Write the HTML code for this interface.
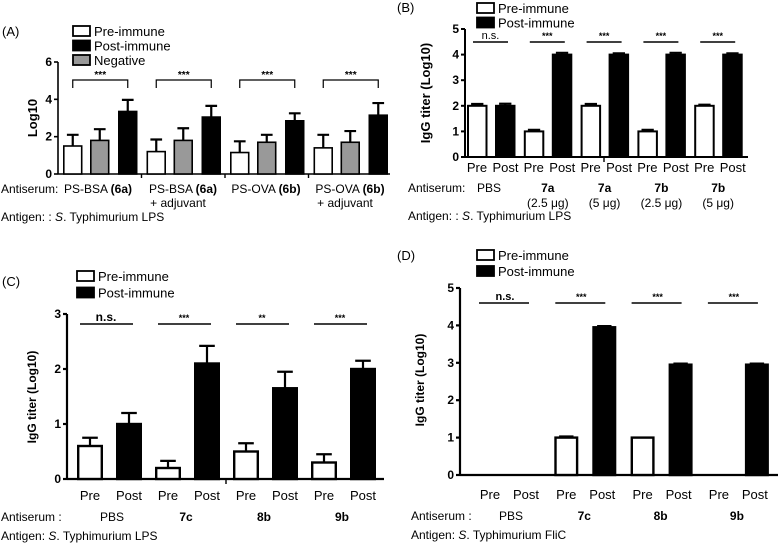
<!DOCTYPE html>
<html><head><meta charset="utf-8"><style>
body{margin:0;background:#fff;}
svg{display:block;font-family:"Liberation Sans",Arial,sans-serif;}
</style></head><body>
<svg id="fig" width="778" height="543" viewBox="0 0 778 543" xmlns="http://www.w3.org/2000/svg"></svg>
<script>
// Panel A data
const aGroups = ["PS-BSA (6a)", "PS-BSA (6a) + adjuvant", "PS-OVA (6b)", "PS-OVA (6b) + adjuvant"];
const aPre = [1.5, 1.2, 1.15, 1.4];
const aPreErr = [0.6, 0.65, 0.6, 0.7];
const aNeg = [1.8, 1.8, 1.7, 1.7];
const aNegErr = [0.6, 0.65, 0.4, 0.6];
const aPost = [3.35, 3.05, 2.85, 3.15];
const aPostErr = [0.62, 0.6, 0.4, 0.65];
const aTicks = [0, 2, 4, 6];
const aSig = ["***", "***", "***", "***"];
// Panel B data
const bGroups = ["PBS", "7a", "7a", "7b", "7b"];
const bSub = ["", "(2.5 μg)", "(5 μg)", "(2.5 μg)", "(5 μg)"];
const bPre = [2, 1, 2, 1, 2];
const bPreErr = [0.07, 0.06, 0.07, 0.06, 0.04];
const bPost = [2, 4, 4, 4, 4];
const bPostErr = [0.08, 0.07, 0.05, 0.07, 0.05];
const bTicks = [0, 1, 2, 3, 4, 5];
const bSig = ["n.s.", "***", "***", "***", "***"];
// Panel C data
const cGroups = ["PBS", "7c", "8b", "9b"];
const cPre = [0.6, 0.2, 0.5, 0.3];
const cPreErr = [0.15, 0.13, 0.15, 0.15];
const cPost = [1.0, 2.1, 1.65, 2.0];
const cPostErr = [0.2, 0.32, 0.3, 0.15];
const cTicks = [0, 1, 2, 3];
const cSig = ["n.s.", "***", "**", "***"];
// Panel D data
const dGroups = ["PBS", "7c", "8b", "9b"];
const dPre = [0, 1, 1, 0];
const dPreErr = [0, 0.03, 0, 0];
const dPost = [0, 3.95, 2.95, 2.95];
const dPostErr = [0, 0.03, 0.03, 0.03];
const dTicks = [0, 1, 2, 3, 4, 5];
const dSig = ["n.s.", "***", "***", "***"];

const svg = document.getElementById('fig');
const NS = "http://www.w3.org/2000/svg";
function el(tag, attrs, parent) {
  const e = document.createElementNS(NS, tag);
  for (const k in attrs) e.setAttribute(k, attrs[k]);
  (parent || svg).appendChild(e);
  return e;
}
function txt(x, y, s, size, opts, parent) {
  opts = opts || {};
  const t = el('text', {x: x, y: y, 'font-size': size, 'text-anchor': opts.anchor || 'start', 'font-weight': opts.bold ? 'bold' : 'normal', fill: '#000'}, parent);
  if (opts.rot) t.setAttribute('transform', 'rotate(-90 ' + x + ' ' + y + ')');
  t.innerHTML = s;
  return t;
}
function yScale(y0, yTop, max) { return v => y0 - v / max * (y0 - yTop); }

function axes(g, x0, y0, yTop, xEnd, ticks, max, lw) {
  const Y = yScale(y0, yTop, max);
  const ax = el('line', {x1: x0, y1: yTop, x2: x0, y2: y0, stroke: '#000', 'stroke-width': lw}, g);
  
  
  const xx = el('line', {x1: x0, y1: y0, x2: xEnd, y2: y0, stroke: '#000', 'stroke-width': lw}, g);
  
  
  ticks.forEach(t => {
    el('line', {x1: x0 - 4, y1: Y(t), x2: x0, y2: Y(t), stroke: '#000', 'stroke-width': lw}, g);
    const l = txt(x0 - 6, Y(t) + 4, t, 12, {anchor: 'end', bold: true}, g);
    
    
  });
  return Y;
}
function bar(g, x, w, v, err, Y, fill, lw, name) {
  const y0 = Y(0), yt = Y(v);
  if (v <= 0) return;
  const cx = x + w / 2;
  if (err > 0) {
    const et = Y(v + err);
    const e = el('path', {d: 'M' + cx + ' ' + yt + 'V' + et + 'M' + (cx - w * 0.3) + ' ' + et + 'H' + (cx + w * 0.3), stroke: '#000', 'stroke-width': 2.2, fill: 'none'}, g);
    
    
  }
  const r = el('rect', {x: x + lw / 2, y: yt, width: w - lw, height: y0 - yt, fill: fill, stroke: '#000', 'stroke-width': lw}, g);
  
  
}
function legend(g, x, y, items, dy) {
  items.forEach((it, i) => {
    const r = el('rect', {x: x, y: y + i * dy - 5, width: 17, height: 10, fill: it[1], stroke: '#000', 'stroke-width': 1.8}, g);
    
    
    const t = txt(x + 21, y + i * dy + 5, it[0], 13, {}, g);
    
    
  });
}
const LEG2 = [["Pre-immune", '#fff', 'pre'], ["Post-immune", '#000', 'post']];

// ---------- Panel A ----------
{
  const g = el('g', {});  
  txt(2, 36, '(A)', 13, {}, g);
  legend(g, 73, 31, [["Pre-immune", '#fff', 'pre'], ["Post-immune", '#000', 'post'], ["Negative", '#999', 'negative']], 14.5);
  const Y = axes(g, 58, 174, 62, 390, aTicks, 6, 1.6);
  const yt = txt(37, 118, 'Log10', 13, {anchor: 'middle', bold: true, rot: true}, g);
   
  const gw = 83.5, bw = 19.5;
  aGroups.forEach((name, i) => {
    const gx = 63 + i * gw;
    bar(g, gx, bw, aPre[i], aPreErr[i], Y, '#fff', 1.6, 'bar-pre-' + (i + 1));
    bar(g, gx + 27, bw, aNeg[i], aNegErr[i], Y, '#999', 1.6, 'bar-negative-' + (i + 1));
    bar(g, gx + 55, bw, aPost[i], aPostErr[i], Y, '#000', 1.6, 'bar-post-' + (i + 1));
    const x1 = gx + bw / 2, x2 = gx + 55 + bw / 2, by = 80;
    const br = el('path', {d: 'M' + x1 + ' 88V' + by + 'H' + x2 + 'V88', stroke: '#000', 'stroke-width': 1.2, fill: 'none'}, g);
     
    txt((x1 + x2) / 2, 78, aSig[i], 10, {anchor: 'middle', bold: true}, g);
    if (i > 0) el('line', {x1: gx - 5, y1: 174, x2: gx - 5, y2: 178, stroke: '#000', 'stroke-width': 1.4}, g);
  });
  const lab = [['PS-BSA <tspan font-weight="bold">(6a)</tspan>', ''], ['PS-BSA <tspan font-weight="bold">(6a)</tspan>', '+  adjuvant'], ['PS-OVA <tspan font-weight="bold">(6b)</tspan>', ''], ['PS-OVA <tspan font-weight="bold">(6b)</tspan>', '+  adjuvant']];
  const cx = [98, 183, 266, 350];
  txt(1, 193, 'Antiserum:', 12, {}, g);
  lab.forEach((l, i) => { txt(cx[i], 193, l[0], 12, {anchor: 'middle'}, g); if (l[1]) txt(cx[i] - 5, 207, l[1], 12, {anchor: 'middle'}, g); });
  txt(1, 221, 'Antigen: :  <tspan font-style="italic">S</tspan>. Typhimurium  LPS', 12, {}, g);
}

// ---------- Panel B ----------
{
  const g = el('g', {});  
  txt(397, 12, '(B)', 13, {}, g);
  legend(g, 477, 8, LEG2, 14.5);
  const Y = axes(g, 465, 157, 29, 748, bTicks, 5, 2);
  const yt = txt(430, 93, 'IgG titer (Log10)', 13, {anchor: 'middle', bold: true, rot: true}, g);
   
  const gw = 56.8, bw = 20.5;
  bGroups.forEach((name, i) => {
    const gx = 467 + i * gw;
    bar(g, gx, bw, bPre[i], bPreErr[i], Y, '#fff', 2, 'bar-pre-' + (i + 1));
    bar(g, gx + 28, bw, bPost[i], bPostErr[i], Y, '#000', 2, 'bar-post-' + (i + 1));
    const s = el('line', {x1: gx + 6, y1: 42, x2: gx + 41, y2: 42, stroke: '#000', 'stroke-width': 1.4}, g);
     
    txt(gx + 23.5, 39, bSig[i], i === 0 ? 11 : 9, {anchor: 'middle', bold: i > 0}, g);
    txt(gx + 10, 172, 'Pre', 13, {anchor: 'middle'}, g);
    txt(gx + 38.5, 172, 'Post', 13, {anchor: 'middle'}, g);
    txt(gx + 24 + (i === 0 ? -2 : 0), 192, name, 12, {anchor: 'middle', bold: i > 0}, g);
    if (bSub[i]) txt(gx + 24, 207, bSub[i], 12, {anchor: 'middle'}, g);
  });
  el('line', {x1: 604, y1: 157, x2: 604, y2: 162, stroke: '#000', 'stroke-width': 1.4}, g);
  txt(408, 192, 'Antiserum:', 12, {}, g);
  txt(408, 220, 'Antigen: : <tspan font-style="italic">S</tspan>. Typhimurium  LPS', 12, {}, g);
}

// ---------- Panel C ----------
{
  const g = el('g', {});  
  txt(2, 286, '(C)', 13, {}, g);
  legend(g, 77, 276, LEG2, 16.5);
  const Y = axes(g, 67, 479, 314, 384, cTicks, 3, 2.2);
  const yt = txt(36, 397, 'IgG titer (Log10)', 12, {anchor: 'middle', bold: true, rot: true}, g);
   
  const gw = 78, bw = 26;
  cGroups.forEach((name, i) => {
    const gx = 77 + i * gw;
    bar(g, gx, bw, cPre[i], cPreErr[i], Y, '#fff', 2.4, 'bar-pre-' + (i + 1));
    bar(g, gx + 39, bw, cPost[i], cPostErr[i], Y, '#000', 2.4, 'bar-post-' + (i + 1));
    const s = el('line', {x1: gx + 3, y1: 324, x2: gx + 56, y2: 324, stroke: '#000', 'stroke-width': 1.6}, g);
     
    txt(gx + 29, 321, cSig[i], i === 0 ? 12 : 9, {anchor: 'middle', bold: true}, g);
    txt(gx + 13, 500, 'Pre', 13, {anchor: 'middle'}, g);
    txt(gx + 52, 500, 'Post', 13, {anchor: 'middle'}, g);
    txt(gx + 31 + (i === 0 ? 4 : 0), 521, name, 12, {anchor: 'middle', bold: i > 0}, g);
  });
  el('line', {x1: 226, y1: 479, x2: 226, y2: 484, stroke: '#000', 'stroke-width': 1.4}, g);
  txt(1, 521, 'Antiserum :', 12, {}, g);
  txt(1, 540, 'Antigen: <tspan font-style="italic">S</tspan>. Typhimurium  LPS', 12, {}, g);
}

// ---------- Panel D ----------
{
  const g = el('g', {});  
  txt(397, 260, '(D)', 13, {}, g);
  legend(g, 477, 255, LEG2, 16);
  const Y = axes(g, 460, 475, 288, 778, dTicks, 5, 2.2);
  const yt = txt(424, 380, 'IgG titer (Log10)', 12, {anchor: 'middle', bold: true, rot: true}, g);
   
  const gw = 76.3, bw = 24;
  dGroups.forEach((name, i) => {
    const gx = 478 + i * gw;
    bar(g, gx, bw, dPre[i], dPreErr[i], Y, '#fff', 2.4, 'bar-pre-' + (i + 1));
    bar(g, gx + 38, bw, dPost[i], dPostErr[i], Y, '#000', 2.4, 'bar-post-' + (i + 1));
    const s = el('line', {x1: gx + 1, y1: 303, x2: gx + 51, y2: 303, stroke: '#000', 'stroke-width': 1.6}, g);
     
    txt(gx + 27, 300, dSig[i], i === 0 ? 11 : 9, {anchor: 'middle', bold: true}, g);
    txt(gx + 12, 499, 'Pre', 13, {anchor: 'middle'}, g);
    txt(gx + 48, 499, 'Post', 13, {anchor: 'middle'}, g);
    txt(gx + 30 + (i === 0 ? 3 : 0), 520, name, 12, {anchor: 'middle', bold: i > 0}, g);
  });
  txt(411, 520, 'Antiserum :', 12, {}, g);
  txt(411, 539, 'Antigen: <tspan font-style="italic">S</tspan>. Typhimurium  FliC', 12, {}, g);
}
</script>
</body></html>
